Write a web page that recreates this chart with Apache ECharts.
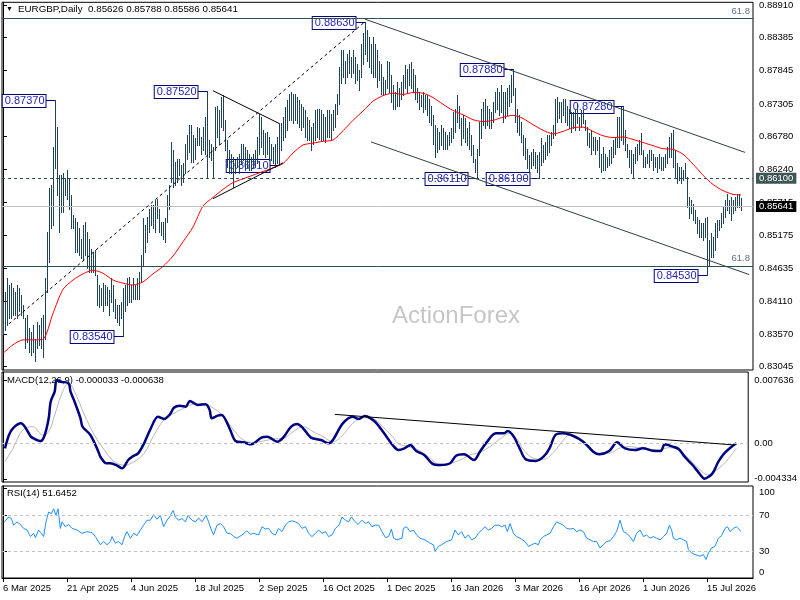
<!DOCTYPE html>
<html><head><meta charset="utf-8">
<script src="https://cdn.jsdelivr.net/npm/echarts@6/dist/echarts.min.js"></script>
<style>html,body{margin:0;padding:0;background:#fff}#c{width:800px;height:600px}</style>
</head><body><div id="c"></div>
<script>
// ---------- DATA ----------
const symbolTitle = 'EURGBP,Daily';
const lastBarOHLC = [0.85626, 0.85788, 0.85586, 0.85641];
const tickBars = [0, 32, 64, 96, 128, 160, 192, 224, 256, 288, 320, 352];
const tickLabels = ['6 Mar 2025','21 Apr 2025','4 Jun 2025','18 Jul 2025','2 Sep 2025','16 Oct 2025','1 Dec 2025','16 Jan 2026','3 Mar 2026','16 Apr 2026','1 Jun 2026','15 Jul 2026'];
const priceTicks = [0.88910,0.88385,0.87845,0.87305,0.86780,0.86240,0.85715,0.85175,0.84635,0.84110,0.83570,0.83045];
const macdTicks = [0.007636, 0, -0.004334];
const rsiTicks = [100, 70, 30, 0];

const highs = [
.8410,.8426,.8448,.8437,.8440,.8432,.8426,.8437,.8432,.8421,
.8405,.8383,.8388,.8367,.8361,.8372,.8350,.8377,.8372,.8383,
.8388,.8448,.8523,.8594,.8599,.8661,.8737,.8693,.8615,.8615,
.8618,.8610,.8623,.8610,.8583,.8550,.8545,.8539,.8529,.8512,
.8534,.8539,.8523,.8512,.8496,.8491,.8494,.8453,.8437,.8432,
.8440,.8437,.8434,.8429,.8448,.8437,.8415,.8405,.8405,.8410,
.8432,.8437,.8448,.8450,.8437,.8448,.8437,.8448,.8458,.8485,
.8545,.8534,.8547,.8561,.8566,.8566,.8575,.8577,.8561,.8539,
.8539,.8545,.8583,.8599,.8669,.8656,.8637,.8642,.8642,.8631,
.8634,.8666,.8680,.8696,.8696,.8680,.8675,.8693,.8691,.8677,
.8693,.8710,.8752,.8672,.8666,.8661,.8726,.8728,.8720,.8742,
.8745,.8704,.8672,.8656,.8650,.8645,.8639,.8645,.8650,.8666,
.8666,.8661,.8656,.8650,.8645,.8650,.8656,.8677,.8715,.8710,
.8688,.8683,.8685,.8677,.8666,.8661,.8666,.8677,.8699,.8699,
.8710,.8726,.8737,.8747,.8750,.8747,.8747,.8742,.8737,.8731,
.8726,.8720,.8710,.8704,.8693,.8699,.8720,.8723,.8723,.8720,
.8715,.8710,.8720,.8720,.8715,.8720,.8731,.8747,.8791,.8818,
.8818,.8801,.8812,.8818,.8807,.8818,.8807,.8796,.8785,.8828,
.8845,.8863,.8850,.8839,.8828,.8839,.8828,.8818,.8801,.8796,
.8774,.8769,.8801,.8799,.8777,.8761,.8750,.8766,.8756,.8766,
.8777,.8793,.8788,.8796,.8799,.8788,.8777,.8756,.8750,.8745,
.8750,.8745,.8745,.8739,.8728,.8712,.8696,.8691,.8685,.8696,
.8691,.8685,.8680,.8685,.8691,.8718,.8723,.8745,.8728,.8707,
.8712,.8707,.8691,.8702,.8680,.8664,.8642,.8658,.8702,.8723,
.8734,.8739,.8728,.8723,.8718,.8734,.8750,.8756,.8750,.8761,
.8750,.8750,.8756,.8761,.8777,.8788,.8756,.8723,.8712,.8702,
.8680,.8675,.8658,.8648,.8653,.8658,.8653,.8648,.8653,.8675,
.8664,.8669,.8680,.8680,.8685,.8696,.8739,.8742,.8734,.8734,
.8739,.8739,.8728,.8723,.8718,.8718,.8720,.8731,.8710,.8720,
.8720,.8704,.8693,.8683,.8688,.8677,.8677,.8672,.8677,.8650,
.8661,.8650,.8645,.8656,.8661,.8672,.8677,.8710,.8710,.8726,
.8728,.8688,.8666,.8656,.8656,.8650,.8661,.8666,.8672,.8683,
.8656,.8645,.8650,.8656,.8656,.8650,.8645,.8645,.8650,.8645,
.8645,.8650,.8661,.8677,.8683,.8688,.8656,.8634,.8629,.8629,
.8623,.8634,.8612,.8580,.8575,.8569,.8558,.8548,.8542,.8537,
.8537,.8545,.8548,.8510,.8521,.8515,.8537,.8542,.8542,.8553,
.8564,.8575,.8585,.8575,.8580,.8575,.8580,.8585,.8585,.85788
];
const lows = [
.8358,.8364,.8372,.8383,.8383,.8388,.8388,.8383,.8394,.8388,
.8383,.8334,.8345,.8329,.8323,.8329,.8313,.8334,.8340,.8334,
.8321,.8350,.8426,.8475,.8529,.8534,.8626,.8583,.8523,.8556,
.8556,.8583,.8577,.8561,.8529,.8529,.8491,.8491,.8485,.8480,
.8477,.8485,.8464,.8458,.8458,.8458,.8453,.8405,.8402,.8405,
.8394,.8405,.8405,.8388,.8410,.8394,.8383,.8377,.8372,.8383,
.8354,.8394,.8405,.8410,.8410,.8415,.8415,.8415,.8415,.8442,
.8469,.8491,.8507,.8523,.8534,.8529,.8523,.8545,.8523,.8518,
.8512,.8507,.8539,.8561,.8604,.8596,.8599,.8604,.8615,.8599,
.8604,.8618,.8642,.8653,.8637,.8637,.8642,.8664,.8664,.8650,
.8656,.8650,.8610,.8645,.8639,.8610,.8656,.8677,.8666,.8693,
.8688,.8656,.8629,.8618,.8618,.8596,.8618,.8628,.8618,.8634,
.8639,.8623,.8629,.8623,.8623,.8629,.8629,.8634,.8650,.8661,
.8650,.8645,.8650,.8639,.8639,.8634,.8629,.8634,.8631,.8656,
.8672,.8677,.8688,.8704,.8704,.8699,.8704,.8699,.8693,.8688,
.8693,.8677,.8672,.8672,.8656,.8666,.8672,.8677,.8674,.8672,
.8672,.8669,.8677,.8677,.8672,.8688,.8693,.8715,.8731,.8764,
.8774,.8764,.8774,.8780,.8774,.8780,.8764,.8769,.8753,.8774,
.8796,.8812,.8801,.8791,.8780,.8774,.8774,.8758,.8769,.8747,
.8745,.8747,.8756,.8750,.8734,.8723,.8723,.8728,.8728,.8739,
.8745,.8756,.8750,.8761,.8756,.8750,.8739,.8734,.8723,.8728,
.8718,.8723,.8712,.8702,.8696,.8666,.8645,.8653,.8658,.8664,
.8658,.8658,.8658,.8664,.8669,.8675,.8685,.8702,.8691,.8664,
.8675,.8669,.8664,.8658,.8648,.8637,.8621,.8611,.8648,.8675,
.8696,.8691,.8696,.8691,.8691,.8702,.8718,.8723,.8712,.8718,
.8702,.8707,.8712,.8728,.8734,.8745,.8702,.8685,.8680,.8669,
.8648,.8642,.8626,.8621,.8626,.8631,.8626,.8621,.8610,.8631,
.8637,.8642,.8648,.8653,.8664,.8675,.8680,.8702,.8707,.8702,
.8712,.8702,.8696,.8691,.8685,.8691,.8688,.8699,.8688,.8693,
.8699,.8688,.8664,.8661,.8650,.8656,.8650,.8656,.8629,.8621,
.8623,.8623,.8629,.8631,.8634,.8645,.8650,.8661,.8661,.8672,
.8666,.8656,.8645,.8629,.8618,.8612,.8634,.8639,.8650,.8650,
.8629,.8629,.8634,.8629,.8639,.8623,.8629,.8621,.8626,.8623,
.8623,.8629,.8634,.8645,.8645,.8629,.8612,.8602,.8607,.8602,
.8607,.8610,.8564,.8545,.8553,.8542,.8537,.8521,.8515,.8515,
.8510,.8515,.8453,.8467,.8483,.8483,.8494,.8515,.8526,.8531,
.8537,.8548,.8558,.8553,.8542,.8553,.8558,.8564,.8564,.85586
];
// moving average (red line) read at sample bars
const maLine = [[0,.8326],[5,.8340],[10,.8348],[15,.8348],[20,.8349],[25,.8391],[30,.8430],[35,.8445],[40,.8455],[45,.8461],[50,.8456],[55,.8445],[60,.8440],[65,.8437],[70,.8442],[75,.8455],[80,.8467],[85,.8484],[90,.8507],[95,.8531],[100,.8565],[105,.8579],[110,.8592],[115,.8603],[120,.8609],[125,.8615],[130,.8621],[135,.8627],[140,.8634],[145,.8651],[150,.8664],[155,.8667],[160,.8670],[165,.8672],[170,.8687],[175,.8704],[180,.8719],[185,.8735],[190,.8744],[195,.8748],[200,.8746],[205,.8749],[210,.8748],[215,.8741],[220,.8730],[225,.8720],[230,.8713],[235,.8705],[240,.8702],[245,.8704],[250,.8709],[255,.8712],[260,.8707],[265,.8697],[270,.8688],[275,.8682],[280,.8686],[285,.8692],[290,.8693],[295,.8686],[300,.8679],[305,.8676],[310,.8677],[315,.8673],[320,.8668],[325,.8663],[330,.8658],[335,.8657],[340,.8649],[345,.8633],[350,.8615],[355,.8600],[360,.8590],[365,.8584],[369,.8583]];
const macdLine = [[1,-0.00065],[3,0.00097],[5,0.00178],[9,0.00238],[11,0.00198],[14,0.00077],[16,0.00048],[19,0.00024],[21,0.00097],[23,0.00299],[24,0.00501],[26,0.00622],[27,0.00764],[29,0.00743],[33,0.00723],[34,0.00622],[36,0.00501],[39,0.00299],[40,0.00198],[44,0.00097],[48,-0.00105],[49,-0.00166],[52,-0.00246],[54,-0.00246],[57,-0.00267],[60,-0.00307],[63,-0.00206],[65,-0.00166],[68,-0.00125],[71,-0.00004],[74,0.00158],[78,0.00319],[81,0.00291],[84,0.00347],[86,0.00428],[89,0.00452],[92,0.00440],[94,0.00509],[98,0.00461],[102,0.00469],[104,0.00400],[105,0.00299],[108,0.00331],[110,0.00339],[114,0.00178],[117,0.00024],[121,0.00008],[125,-0.00016],[130,0.00065],[133,0.00077],[138,0.00016],[141,0.00065],[145,0.00198],[148,0.00230],[151,0.00178],[155,0.00065],[160,0.00036],[164,-0.00004],[166,0.00036],[171,0.00238],[176,0.00319],[179,0.00291],[182,0.00327],[185,0.00299],[188,0.00238],[193,0.00077],[196,-0.00024],[199,-0.00085],[202,-0.00065],[205,-0.00024],[208,-0.00097],[212,-0.00145],[216,-0.00250],[220,-0.00267],[225,-0.00246],[228,-0.00154],[232,-0.00137],[237,-0.00206],[240,-0.00105],[243,-0.00004],[248,0.00117],[252,0.00117],[254,0.00145],[257,0.00077],[260,-0.00065],[263,-0.00198],[268,-0.00218],[272,-0.00166],[275,-0.00065],[278,0.00097],[282,0.00117],[287,0.00085],[292,0.00016],[297,-0.00105],[300,-0.00137],[305,-0.00097],[309,0.00008],[313,-0.00065],[318,-0.00085],[322,-0.00065],[327,-0.00093],[331,-0.00097],[333,-0.00016],[337,-0.00044],[340,-0.00073],[343,-0.00166],[347,-0.00267],[350,-0.00356],[353,-0.00433],[357,-0.00368],[360,-0.00226],[363,-0.00125],[366,-0.00057],[369,-0.000033]];
const signalLine = [[1,-0.00226],[5,-0.00065],[10,0.00158],[15,0.00198],[20,0.00097],[23,0.00137],[26,0.00339],[30,0.00622],[33,0.00723],[36,0.00622],[41,0.00339],[46,0.00097],[51,-0.00085],[56,-0.00226],[61,-0.00267],[66,-0.00226],[71,-0.00125],[76,0.00097],[81,0.00279],[86,0.00360],[91,0.00420],[96,0.00469],[101,0.00469],[106,0.00420],[111,0.00319],[116,0.00158],[121,0.00036],[126,0.00008],[131,0.00024],[136,0.00048],[141,0.00057],[146,0.00137],[151,0.00198],[156,0.00137],[161,0.00077],[166,0.00016],[171,0.00097],[176,0.00238],[181,0.00307],[186,0.00299],[191,0.00198],[196,0.00077],[199,-0.0001],[204,-0.00044],[209,-0.00085],[215,-0.00186],[220,-0.00259],[225,-0.00246],[230,-0.00206],[235,-0.00145],[240,-0.00113],[245,-0.00044],[250,0.00048],[255,0.00117],[259,0.00036],[262,-0.00085],[267,-0.00186],[272,-0.00198],[277,-0.00113],[282,0.00036],[285,0.00097],[290,0.00057],[295,-0.00044],[300,-0.00125],[305,-0.00125],[310,-0.00065],[315,-0.00044],[320,-0.00057],[325,-0.00073],[330,-0.00085],[335,-0.00057],[340,-0.00085],[345,-0.00186],[350,-0.00307],[355,-0.00388],[358,-0.00347],[363,-0.00246],[369,-0.000638]];
const rsiLine = [[0.8,62.4],[2.8,67.8],[4.2,66.0],[5.3,58.7],[7,62.4],[8.7,59.5],[10.3,55.1],[12,53.3],[13.7,46.0],[15.3,49.6],[16.2,44.9],[17.8,53.3],[19.2,49.6],[20.3,46.0],[21.5,62.4],[22.8,73.3],[24.2,71.5],[25.3,76.9],[26.5,69.6],[27.5,76.9],[28.7,55.1],[29.5,62.4],[31.2,56.9],[32.8,59.5],[34.5,55.1],[37,53.3],[39.5,49.6],[42,51.5],[44.5,50.4],[46.2,46.0],[48.7,36.9],[50.3,40.5],[52,36.9],[53.7,40.5],[54.5,46.0],[56.2,38.7],[57.8,40.5],[59.5,36.9],[60.8,46.0],[62,51.5],[63.7,44.2],[65.3,49.6],[67,47.1],[68.7,53.3],[70.3,58.7],[72,64.2],[73.7,64.2],[75.3,70.4],[77,65.3],[78.7,69.6],[80.3,56.9],[82,64.2],[83.3,67.8],[85,75.1],[86.2,67.8],[87.8,64.2],[89.5,66.0],[91.2,62.4],[92.5,69.6],[94.5,64.2],[96.2,62.4],[97.8,66.7],[99.5,62.4],[101.5,69.6],[102.8,62.4],[104.2,53.3],[105.3,47.8],[107,58.7],[108.7,60.5],[110.3,56.9],[112,49.6],[113.7,49.6],[115.3,46.0],[117,44.2],[119.5,47.8],[122,52.5],[123.7,48.5],[125.3,49.6],[127.8,47.8],[129.5,56.9],[131.2,54.4],[132.8,55.1],[134.5,49.6],[136.2,47.8],[137.8,55.1],[139.5,51.5],[141.2,58.7],[142.8,62.4],[144.5,63.5],[146.2,62.4],[147.8,60.5],[149.5,55.1],[151.2,56.9],[152.8,49.6],[154.5,46.0],[156.2,49.6],[157.8,53.3],[159.5,49.6],[161.2,51.5],[162.8,46.0],[164.5,47.8],[166.2,55.1],[168.2,59.5],[169.5,67.8],[171.2,64.2],[172.8,62.4],[174.2,67.8],[175.8,63.1],[177.5,59.5],[179.5,64.2],[181.2,60.5],[182.8,62.4],[184.5,56.9],[186.2,58.7],[187.8,58.7],[189.5,51.5],[191.2,44.9],[192.8,46.0],[194.2,54.4],[195.3,44.2],[197,42.4],[199.5,44.2],[200.2,55.1],[201.8,56.9],[203.5,51.5],[205.2,53.3],[206.8,47.8],[208.5,44.2],[211,42.4],[213.5,38.7],[215.2,36.9],[216,29.6],[217.7,35.1],[219.3,36.9],[221.8,40.5],[224.3,42.4],[226,53.3],[227.7,47.8],[229.3,51.5],[231,44.2],[232.7,47.8],[234.3,42.4],[236,44.2],[237.7,49.6],[239.3,53.3],[241,56.9],[242.7,53.3],[244.3,55.1],[246,58.7],[247.7,58.7],[249.3,56.9],[251,58.7],[252.2,51.5],[253.5,60.5],[255.2,49.6],[256.8,46.0],[258.5,44.2],[261,40.5],[262.7,35.1],[264.3,36.9],[266,38.7],[267.7,36.9],[268.5,42.4],[270.2,46.0],[271.8,47.8],[273.5,49.6],[275.2,56.9],[276.8,62.4],[278.5,60.5],[280.2,58.7],[281.8,55.1],[283.5,54.4],[285.2,55.1],[286.8,51.5],[288.5,53.3],[290.2,51.5],[291.8,44.2],[293.5,42.4],[295.2,40.5],[296.8,40.5],[298.5,33.3],[300.2,36.9],[301.8,40.5],[303.5,41.3],[305.2,46.0],[306.8,51.5],[308.5,64.2],[310.2,51.5],[311.8,49.6],[313.5,46.0],[315.2,40.5],[316.8,49.6],[318.5,53.3],[320.2,46.0],[321.8,47.8],[323.5,44.2],[325.2,46.0],[326.8,44.2],[328.5,42.4],[330.2,46.0],[331.8,49.6],[333.2,58.7],[334.3,53.3],[335.2,44.2],[336.8,42.4],[338.5,44.2],[340.2,42.4],[341.8,40.5],[342.7,31.5],[344.3,27.8],[346,26.0],[348.5,24.2],[350.2,26.0],[351.5,20.5],[352.7,27.8],[354.3,33.3],[356,35.1],[357.7,44.2],[359.3,47.1],[361,55.1],[362.3,56.9],[363.5,51.5],[365.2,55.1],[366.8,56.9],[369,51.6452]];
// swing labels: bar index + price
const labelBars = [26, 60, 102, 138, 181, 237, 255, 268, 310, 352];
const labelPrices = [0.8737, 0.8354, 0.8752, 0.8631, 0.8863, 0.8611, 0.8788, 0.8610, 0.8728, 0.8453];
// horizontal levels
const fibTop = 0.8869, fibBottom = 0.8468, supportLevel = 0.8610;
const lastClose = lastBarOHLC[3];
// trend lines: [[bar, price],[bar, price]]
const risingLine = [[3, 0.8374], [181, 0.8864]];
const flagUpper = [[105, 0.8752], [138, 0.8699]];
const flagLower = [[105, 0.8577], [140, 0.8635]];
const channelTop = [[181, 0.8868], [371, 0.8652]];
const channelBottom = [[184, 0.8669], [373, 0.8454]];
const macdTrend = [[167, 0.00347], [368, -0.00024]];

// ---------- CHART ----------
const FONT = '"Liberation Sans", Arial, sans-serif';
const barColor = '#1e4356';
const chart = echarts.init(document.getElementById('c'), null, {renderer: 'canvas'});
const xBase = {type: 'value', min: -0.5, max: 375, show: false};
const gridBase = {left: 2, width: 751, show: true, borderColor: '#000', borderWidth: 1, backgroundColor: '#fff'};
const yLabel = {fontSize: 9.5, color: '#000', fontFamily: FONT, margin: 6};
const tl = (pair, style) => [{coord: pair[0], lineStyle: style}, {coord: pair[1]}];
const hLine = (v, style, label) => ({yAxis: v, lineStyle: style, label: label});
const fibLabel = {show: true, formatter: '61.8', position: 'insideEndTop', distance: [3, 2], color: '#5f7383', fontSize: 9.5, fontFamily: FONT};
const tagLabel = (v, bg) => ({show: true, formatter: v.toFixed(5), position: 'end', distance: 3, color: '#fff', backgroundColor: bg, padding: [1, 3, 0, 3], fontSize: 9.5, fontFamily: FONT});

const option = {
  animation: false,
  backgroundColor: '#fff',
  grid: [
    Object.assign({top: 2, height: 368}, gridBase),
    Object.assign({top: 372, height: 110}, gridBase),
    Object.assign({top: 486, height: 92}, gridBase)
  ],
  xAxis: [
    Object.assign({gridIndex: 0}, xBase),
    Object.assign({gridIndex: 1}, xBase),
    {gridIndex: 2, type: 'value', min: -0.5, max: 375,
     axisLine: {show: true, lineStyle: {color: '#000'}},
     axisTick: {show: true, customValues: tickBars, length: 4, lineStyle: {color: '#000'}},
     axisLabel: {customValues: tickBars, formatter: v => tickLabels[tickBars.indexOf(v)], align: 'left',
                 fontSize: 9.5, color: '#000', fontFamily: FONT, margin: 5},
     splitLine: {show: false}}
  ],
  yAxis: [
    {gridIndex: 0, type: 'value', position: 'right', min: 0.829913, max: 0.889537,
     axisLine: {show: true, lineStyle: {color: '#000'}},
     axisTick: {show: true, customValues: priceTicks, length: 4, lineStyle: {color: '#000'}},
     axisLabel: Object.assign({customValues: priceTicks, formatter: v => v.toFixed(5)}, yLabel),
     splitLine: {show: false}},
    {gridIndex: 1, type: 'value', position: 'right', min: -0.004727, max: 0.008605,
     axisLine: {show: true, lineStyle: {color: '#000'}},
     axisTick: {show: true, customValues: macdTicks, length: 4, lineStyle: {color: '#000'}},
     axisLabel: Object.assign({customValues: macdTicks, formatter: v => v === 0 ? '0.00' : v.toFixed(6)}, yLabel),
     splitLine: {show: false}},
    {gridIndex: 2, type: 'value', position: 'right', min: 0, max: 102.2,
     axisLine: {show: true, lineStyle: {color: '#000'}},
     axisTick: {show: true, customValues: rsiTicks, length: 4, lineStyle: {color: '#000'}},
     axisLabel: Object.assign({customValues: rsiTicks,
        formatter: v => v === 100 ? '{t|100}' : (v === 0 ? '{b|0}' : String(v)),
        rich: {t: {padding: [8, 0, 0, 0], fontSize: 9.5, fontFamily: FONT, color: '#000'},
               b: {padding: [0, 0, 11, 0], fontSize: 9.5, fontFamily: FONT, color: '#000'}}}, yLabel),
     splitLine: {show: false}}
  ],
  graphic: [
    {type: 'text', left: 6, top: 6, style: {text: '\u25BC', font: '7px ' + FONT, fill: '#000'}},
    {type: 'text', left: 18, top: 4.5, style: {text: symbolTitle + '  ' + lastBarOHLC.map(v => v.toFixed(5)).join(' '), font: '9.8px ' + FONT, fill: '#000'}},
    {type: 'text', left: 7, top: 375.5, style: {text: 'MACD(12,26,9) ' + macdLine[macdLine.length-1][1].toFixed(6) + ' ' + signalLine[signalLine.length-1][1].toFixed(6), font: '9.5px ' + FONT, fill: '#000'}},
    {type: 'text', left: 7, top: 488.5, style: {text: 'RSI(14) ' + rsiLine[rsiLine.length-1][1].toFixed(4), font: '9.5px ' + FONT, fill: '#000'}},
    {type: 'text', left: 392, top: 304, style: {text: 'ActionForex', font: '24px ' + FONT, fill: '#c6c6c6'}}
  ],
  series: [
    { // swing price labels
      type: 'custom', xAxisIndex: 0, yAxisIndex: 0, z: 2, silent: true,
      data: labelBars.map((b, k) => [b, labelPrices[k]]),
      encode: {x: 0, y: 1},
      renderItem: (params, api) => {
        const pt = api.coord([api.value(0), api.value(1)]);
        const x = Math.round(pt[0]) + 0.5, y = Math.round(pt[1]) + 0.5;
        const gap = 10;
        return {type: 'group', children: [
          {type: 'line', shape: {x1: x - gap, y1: y, x2: x, y2: y}, style: {stroke: '#000080', lineWidth: 1}},
          {type: 'text', x: x - gap, y: y + 0.5, style: {text: api.value(1).toFixed(5), align: 'right', verticalAlign: 'middle',
            fill: '#2323b8', font: '11px ' + FONT, backgroundColor: '#fff', borderColor: '#000080', borderWidth: 1, padding: [1, 1, 0, 2]}}
        ]};
      }
    },
    { // price bars (high-low)
      type: 'custom', xAxisIndex: 0, yAxisIndex: 0, z: 3, silent: true,
      data: highs.map((h, k) => [k, h, lows[k]]),
      encode: {x: 0, y: [1, 2]},
      renderItem: (params, api) => {
        const p1 = api.coord([api.value(0), api.value(1)]);
        const p2 = api.coord([api.value(0), api.value(2)]);
        const x = Math.round(p1[0]) + 0.5;
        return {type: 'line', shape: {x1: x, y1: Math.round(p1[1]), x2: x, y2: Math.round(p2[1]) + 1},
                style: {stroke: barColor, lineWidth: 1}};
      }
    },
    {type: 'line', xAxisIndex: 0, yAxisIndex: 0, z: 4, data: maLine, symbol: 'none', smooth: 0.25,
     lineStyle: {color: '#ff0000', width: 1}, silent: true,
     markLine: {
        silent: true, symbol: ['none', 'none'], animation: false, precision: 6,
        label: {show: false},
        lineStyle: {color: '#2f4f4f', width: 1, type: 'solid'},
        emphasis: {disabled: true},
        data: [
          hLine(fibTop, {color: '#2f4f4f', type: 'solid', width: 1}, fibLabel),
          hLine(fibBottom, {color: '#2f4f4f', type: 'solid', width: 1}, fibLabel),
          hLine(supportLevel, {color: '#2f4f4f', type: [3, 3], width: 1}, tagLabel(supportLevel, '#3f5754')),
          hLine(lastClose, {color: '#c0c0c0', type: 'solid', width: 1}, tagLabel(lastClose, '#000')),
          tl(risingLine, {color: '#000', type: [3, 3], width: 1}),
          tl(flagUpper, {color: '#000', type: 'solid', width: 1}),
          tl(flagLower, {color: '#000', type: 'solid', width: 1}),
          tl(channelTop, {color: '#2f4040', type: 'solid', width: 1}),
          tl(channelBottom, {color: '#2f4040', type: 'solid', width: 1})
        ]
     }},
    {type: 'line', xAxisIndex: 1, yAxisIndex: 1, z: 2, data: signalLine, symbol: 'none', smooth: 0.4,
     lineStyle: {color: '#b8b8b8', width: 1}, silent: true},
    {type: 'line', xAxisIndex: 1, yAxisIndex: 1, z: 3, data: macdLine, symbol: 'none', smooth: 0.3,
     lineStyle: {color: '#000080', width: 2.5}, silent: true,
     markLine: {silent: true, symbol: ['none', 'none'], animation: false, label: {show: false}, precision: 6,
       data: [
         {yAxis: 0, lineStyle: {color: '#c0c0c0', type: [3, 3], width: 1}},
         tl(macdTrend, {color: '#000', type: 'solid', width: 1})
       ]}},
    {type: 'line', xAxisIndex: 2, yAxisIndex: 2, z: 3, data: rsiLine, symbol: 'none',
     lineStyle: {color: '#1e90ff', width: 1}, silent: true,
     markLine: {silent: true, symbol: ['none', 'none'], animation: false, label: {show: false},
       data: [
         {yAxis: 70, lineStyle: {color: '#c0c0c0', type: [3, 3], width: 1}},
         {yAxis: 30, lineStyle: {color: '#c0c0c0', type: [3, 3], width: 1}}
       ]}}
  ]
};
chart.setOption(option);
</script>
</body></html>
